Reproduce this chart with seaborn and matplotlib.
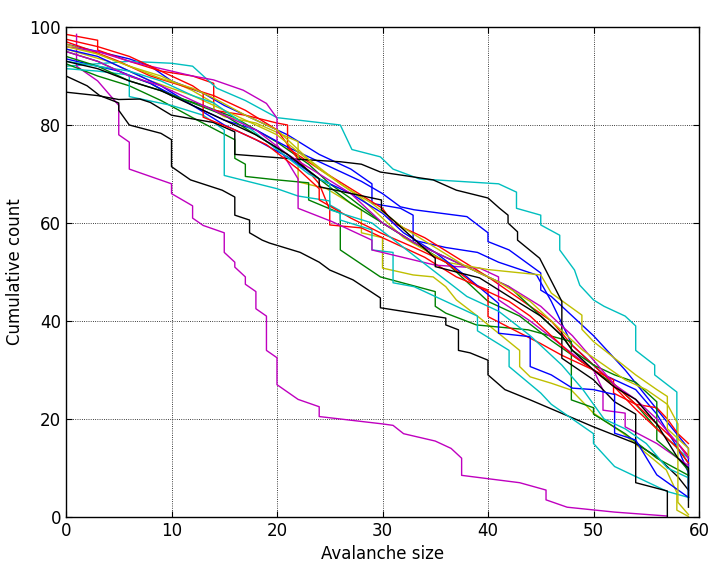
import matplotlib
matplotlib.use("Agg")
import matplotlib.pyplot as plt
import seaborn as sns
import pandas as pd

# one run = one list of sizes (x) and one list of cumulative counts (y)
b1_x = [0, 3, 6, 8, 10, 13, 15, 18, 21, 24, 27, 29, 29, 31.7, 32.9, 32.9, 36, 39, 41, 44.6, 46, 48, 51, 54, 56, 58, 59, 59]
b1_y = [96.5, 95, 93.5, 92, 89, 86.5, 84, 81, 78, 74, 71, 68, 64, 63, 61.6, 56.5, 55, 54, 52, 49.4, 44, 35, 29, 26, 21, 14, 9, 4]

g1_x = [0, 3, 6, 8, 10, 13, 16, 18, 20, 23, 25, 27, 30, 33, 36, 38, 40, 43, 46, 48, 50, 52, 54, 56, 58, 59, 59]
g1_y = [95, 93, 90, 88.5, 86, 84, 81.5, 79, 76.5, 72, 68, 65, 60, 56, 52, 48, 44, 41, 36, 33, 30, 27, 23, 18, 14, 11, 8.5]

r1_x = [0, 3, 3, 6, 9, 12, 14, 14, 17, 20, 21, 21, 24, 27, 30, 31, 34, 37, 40, 42, 44, 46, 48, 50, 52, 54, 56, 58, 59]
r1_y = [98.5, 97.3, 95.3, 93, 91, 90, 88.5, 83, 82, 80.4, 80, 75.3, 71, 67, 63, 60, 57, 53, 49, 46, 43, 40, 35, 31, 27, 23, 19, 15, 12.5]

c1_x = [0, 6, 10, 12, 14.3, 17, 20, 26, 27.1, 29.8, 31, 33.5, 41, 42.7, 42.7, 45, 45, 46.8, 46.8, 48.2, 48.7, 50, 51, 53, 54, 54, 55.8, 55.8, 57.9, 57.9, 59]
c1_y = [92, 93, 92.6, 92, 87.5, 85, 81.5, 80, 75, 73.5, 71, 69, 68, 66.3, 63, 61.6, 59.6, 57.5, 54.5, 50.4, 47.3, 44.3, 43, 41, 39, 34, 31, 29, 25.5, 14, 12]

m1_x = [1, 1, 3, 5, 5, 6, 6, 10, 10, 12, 12, 13, 15, 15, 16, 16, 17, 17, 18, 18, 19, 19, 20, 20, 22, 24, 24, 30, 31, 32, 35, 36.5, 37.5, 37.5, 43, 45.5, 45.5, 47.5, 52, 57]
m1_y = [98.5, 92, 89, 84, 78, 76.5, 71, 68, 66, 63.5, 61, 59.5, 58, 54, 52, 51, 49, 47.5, 46, 42.5, 41, 34, 32.5, 27, 24, 22.5, 20.5, 19, 18.7, 17, 15.5, 14, 12, 8.5, 7, 5.5, 3.5, 2, 1, 0.2]

y1_x = [0, 3, 6, 9, 12, 14, 14, 15, 18, 22, 22, 24.7, 28, 28, 30, 30, 32.9, 34.8, 36, 37, 39, 43, 43, 44, 46, 47.9, 50, 52.8, 55, 56.9, 57.9, 57.9, 59]
y1_y = [96.5, 94.5, 92, 90, 87, 84.5, 83, 81.7, 80.4, 76.6, 68.4, 67, 62.7, 58, 57, 50.8, 49.4, 49, 47, 44.3, 41, 34, 30.7, 28.6, 27.3, 25.9, 21.2, 17.1, 13, 9.6, 5, 1.4, 0.1]

k1_x = [0, 2, 3.2, 5, 5, 6, 9, 10, 10, 11.8, 14.8, 16, 16, 17.4, 17.4, 18.6, 19.3, 22.2, 24, 25, 27.2, 29.8, 29.8, 36, 36, 37.2, 37.2, 38.3, 40, 40, 41.6, 44, 50, 54, 56, 58, 59]
k1_y = [90, 88, 86, 84.5, 83, 80, 78.3, 77, 71.5, 68.8, 66.7, 65.3, 61.6, 60.6, 58, 56.5, 55.9, 54, 52, 50.4, 48.4, 44.7, 42.7, 40.6, 39.2, 38.2, 34, 33.5, 32, 29, 26, 23.9, 18.4, 15, 12.3, 8.2, 5.5]

b2_x = [0, 5, 8, 12, 15, 18, 21, 25, 28, 30, 31.7, 33, 38, 40, 40, 42, 45, 45, 46, 47, 50, 53, 56, 59, 59]
b2_y = [93.5, 91, 88.5, 84, 81, 79, 75.5, 71.5, 68.5, 66, 63.3, 62.7, 61.3, 58, 56.2, 54.5, 49.8, 46.3, 45, 43, 37, 30, 22, 14, 4]

g2_x = [0, 3, 6, 9, 12, 16, 16, 17, 17, 20, 23, 23, 26, 26, 29.8, 35, 35, 36, 38.9, 43.8, 47.9, 47.9, 50, 50, 53, 56, 59]
g2_y = [92.5, 90, 88, 85, 81.5, 77, 73.2, 72, 69.5, 68.8, 68.2, 64.7, 62, 54.5, 49, 46, 43, 41.6, 39.2, 38.2, 35.8, 23.9, 22.3, 21, 17, 12, 8.5]

r2_x = [0, 2, 5, 8, 11, 14, 17, 20, 22, 24, 25, 25, 28, 31, 34, 37, 40, 40, 42.8, 44.9, 47, 50, 51.9, 51.9, 54, 56, 57, 58, 59]
r2_y = [97, 95.5, 93, 90, 88, 86, 83, 79, 73, 68, 62.7, 59.6, 59, 56, 53, 49, 46.3, 40.9, 37.8, 35.5, 33, 30, 28, 25.3, 23, 22.3, 20, 17, 15]

c2_x = [0, 3, 6, 6, 10, 13, 15, 15, 20, 22, 25, 25, 26, 26, 29, 29, 31, 31, 33, 35, 39, 39, 42, 42, 45, 46, 50, 50, 52, 57, 59]
c2_y = [91.5, 91, 90.2, 85.8, 84, 82, 79, 69.7, 67, 65.5, 64.5, 63.7, 62.5, 60.6, 58.6, 54.5, 54, 47.8, 47, 45, 41, 38, 34, 30.7, 25.3, 23, 17, 15, 10.3, 5.2, 4]

m2_x = [0, 3, 6, 9, 12, 14, 16.8, 19, 20, 20, 22, 22, 25.2, 29, 29, 35, 39.2, 41, 41, 44, 47, 50, 50.9, 50.9, 53, 53, 56, 59]
m2_y = [96, 95, 93, 91.5, 90, 89.2, 87.1, 84.4, 81.4, 76, 69, 63, 60.3, 56.5, 54.5, 51.4, 50.8, 49, 44.3, 40, 35, 30, 25.9, 21.8, 21.2, 18.4, 15, 10.5]

y2_x = [0, 4, 8, 12, 16, 20, 24, 28, 32, 36, 40, 45, 46, 48.9, 48.9, 50, 54, 56, 57, 57, 59, 59]
y2_y = [95.5, 93, 89, 86, 82, 78, 71, 65, 57, 52, 50.5, 49.4, 45.7, 41.2, 38.3, 35.8, 29, 26, 24.6, 18, 14, 12.5]

k2_x = [0, 3, 5, 7, 8, 10, 14, 16, 16, 22, 26, 28, 29.8, 31.7, 34.8, 37, 40, 41.1, 41.9, 41.9, 42.8, 42.8, 44.9, 47, 47, 50, 52, 54, 54, 57, 57]
k2_y = [86.7, 86, 85.2, 85.3, 84.6, 82, 80.5, 78.6, 74, 73, 72.5, 72, 70.4, 69.8, 68.8, 66.7, 65.1, 63, 61.6, 60, 58.2, 56.5, 52.8, 44, 32.4, 28, 23.5, 21, 7, 5.3, 0]

b3_x = [0, 3, 6, 9, 12, 15, 18, 21, 24, 27, 30, 32, 35, 38, 41, 41, 44, 44, 46, 48, 50, 52, 52, 54, 56, 59]
b3_y = [95.5, 94, 91, 88, 84, 80, 77, 73.5, 69, 66, 62, 58, 54, 49, 43.6, 37.5, 36.8, 30.7, 29, 26.3, 26, 25, 17.1, 15.7, 8.6, 4]

g3_x = [0, 3, 6, 9, 12, 15, 18, 21, 24, 27, 30, 33, 36, 39, 42, 45, 47, 48, 50, 52, 54, 56, 56, 58, 59, 59]
g3_y = [94, 92, 89, 87, 84.5, 82, 78, 74, 69, 64, 60, 56, 53, 50, 47, 41, 37, 34, 31, 29, 27.5, 23.5, 15.7, 12, 9.5, 7]

r3_x = [0, 3, 6, 9, 12, 13, 13, 16, 19, 22, 24, 24, 27, 29.8, 33, 36, 39, 42, 44, 46, 48, 50, 52, 54, 56, 58, 59]
r3_y = [97.5, 96, 94, 91, 88, 86.5, 81.6, 79, 76, 71, 67, 64.7, 61, 58, 55, 52, 47, 44, 41, 37, 33, 30, 26.5, 22, 18, 14, 11]

c3_x = [0, 3, 6, 9, 12, 14, 17, 20, 23, 25, 25, 29, 32, 35, 38, 41, 44, 47, 49, 51, 53, 55, 57, 59, 59]
c3_y = [93, 92, 91, 89, 86, 84.5, 80, 75, 70, 68, 62.7, 60, 55, 50, 45, 42, 37, 31, 26, 20, 18, 15, 10, 8, 3.5]

m3_x = [0, 3, 6, 9, 12, 15, 18, 21, 24, 27, 30, 33, 36, 39, 42, 45, 48, 50, 52, 54, 56, 58, 59]
m3_y = [95, 93, 90, 88, 85, 82, 79, 74, 70, 66, 60, 56, 53, 50, 47, 43, 37, 32, 27, 24, 20, 15, 12]

y3_x = [0, 3, 6, 9, 12, 14, 17, 20, 23, 26, 29, 32, 35, 38, 41, 44, 47, 49, 51, 53, 55, 57, 58, 58, 59]
y3_y = [96, 94.5, 92, 89.5, 87.5, 85.5, 82, 79, 73, 68, 64, 59, 55, 51, 48, 44, 38, 34, 31, 28, 26, 23, 19, 3, 0.5]

k3_x = [0, 3, 6, 9, 12, 15, 18, 21, 24, 24, 29.9, 29.9, 31, 35, 35, 39.2, 42, 45, 47, 48, 50, 52, 54, 56, 58, 59, 59]
k3_y = [93, 91.5, 89, 87, 84, 81, 78, 74, 69, 67.4, 64.7, 62.7, 60.6, 52.8, 51.1, 48.8, 45, 41, 37, 34, 30, 26.5, 24, 19, 12, 10, 2]

runs = [
    (b1_x, b1_y), (g1_x, g1_y), (r1_x, r1_y), (c1_x, c1_y), (m1_x, m1_y), (y1_x, y1_y), (k1_x, k1_y),
    (b2_x, b2_y), (g2_x, g2_y), (r2_x, r2_y), (c2_x, c2_y), (m2_x, m2_y), (y2_x, y2_y), (k2_x, k2_y),
    (b3_x, b3_y), (g3_x, g3_y), (r3_x, r3_y), (c3_x, c3_y), (m3_x, m3_y), (y3_x, y3_y), (k3_x, k3_y),
]

# old matplotlib colour cycle b g r c m y k
cycle = ["#0000ff", "#008000", "#ff0000", "#00bfbf", "#bf00bf", "#bfbf00", "#000000"]

rows = []
for i, (xs, ys) in enumerate(runs):
    for j, (a, c) in enumerate(zip(xs, ys)):
        rows.append({"run": i, "order": j, "size": a, "count": c})
df = pd.DataFrame(rows)

plt.rcParams.update({
    "font.family": "DejaVu Sans",
    "font.size": 12,
    "xtick.direction": "in",
    "ytick.direction": "in",
    "xtick.top": True,
    "ytick.right": True,
    "xtick.major.size": 4,
    "ytick.major.size": 4,
    "axes.linewidth": 1.0,
})

fig = plt.figure(figsize=(7.26, 5.79), dpi=100)
ax = fig.add_axes([66 / 726, 1 - 517 / 579, (699 - 66) / 726, (517 - 27) / 579])

sns.lineplot(data=df, x="size", y="count", hue="run", sort=False,
             estimator=None, palette=[cycle[i % 7] for i in range(len(runs))],
             legend=False, linewidth=1.0, ax=ax)

ax.set_xlim(0, 60)
ax.set_ylim(0, 100)
ax.set_xticks(range(0, 61, 10))
ax.set_yticks(range(0, 101, 20))
ax.grid(True, color="black", linestyle=":", linewidth=0.6)
ax.set_axisbelow(True)
for s in ax.spines.values():
    s.set_color("black")
ax.tick_params(labelsize=12, colors="black")
ax.set_xlabel("Avalanche size", fontsize=12)
ax.set_ylabel("Cumulative count", fontsize=12)

fig.savefig("out.png", dpi=100, facecolor="white")
